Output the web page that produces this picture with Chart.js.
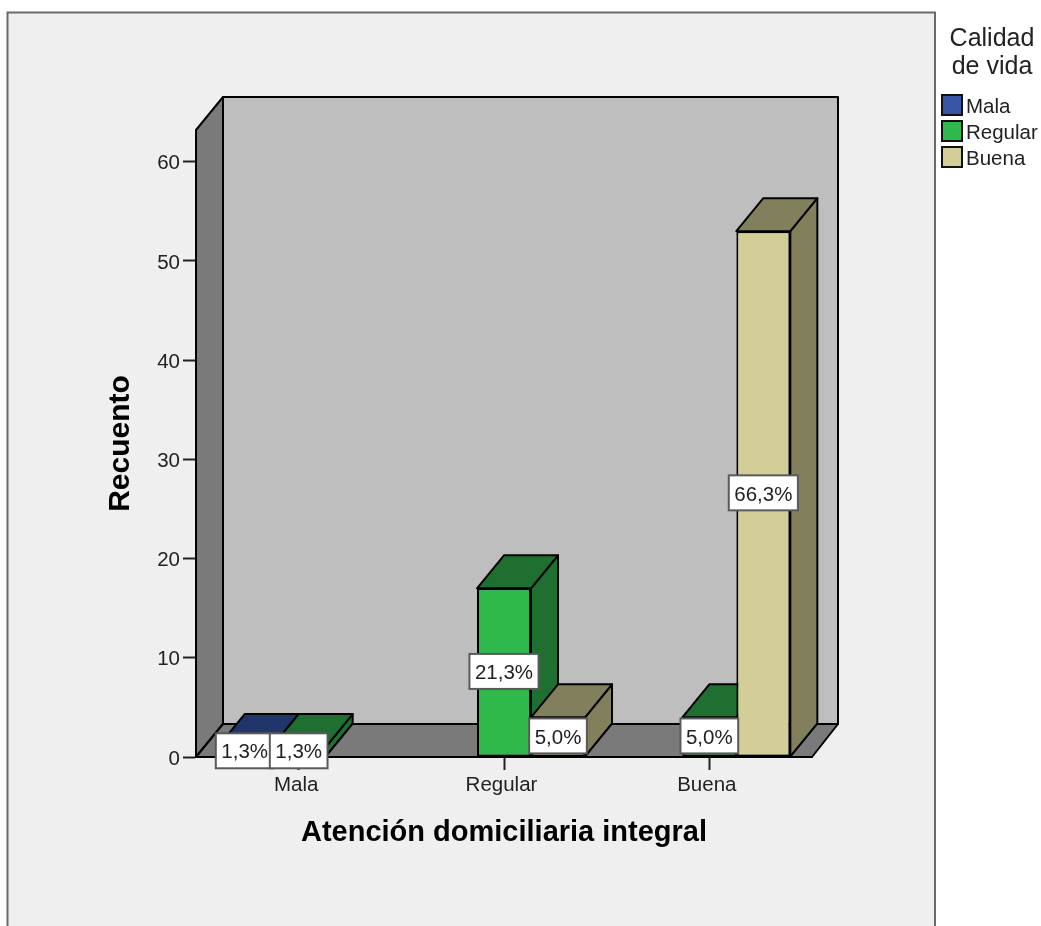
<!DOCTYPE html>
<html>
<head>
<meta charset="utf-8">
<title>Calidad de vida por atención domiciliaria integral</title>
<script src="https://cdn.jsdelivr.net/npm/chart.js@4"></script>
<style>
  html, body { margin: 0; padding: 0; background: #fff; }
  canvas { display: block; }
</style>
</head>
<body>
<canvas id="chart" width="1041" height="926"></canvas>
<script>
const categories = ['Mala', 'Regular', 'Buena'];
const seriesNames = ['Mala', 'Regular', 'Buena'];
const malaCounts = [1, 0, 0];
const regularCounts = [1, 17, 4];
const buenaCounts = [0, 4, 53];
const yTicks = [0, 10, 20, 30, 40, 50, 60];

const xTitle = 'Atención domiciliaria integral';
const yTitle = 'Recuento';
const legendTitle = ['Calidad', 'de vida'];

const frontColors = ['#3A55A5', '#2FB84C', '#D3CE97'];
const shadeColors = ['#20356A', '#1F7030', '#82805C'];

// Oblique offset of the extruded 3D faces, in pixels.
const DEPTH_X = 27;
const DEPTH_Y = 33;
const FONT = '"Liberation Sans", Arial, sans-serif';

const allCounts = [malaCounts, regularCounts, buenaCounts];
const total = allCounts.flat().reduce((a, b) => a + b, 0);

function polygon(ctx, pts, fill) {
  ctx.beginPath();
  pts.forEach((p, i) => i ? ctx.lineTo(p[0], p[1]) : ctx.moveTo(p[0], p[1]));
  ctx.closePath();
  ctx.fillStyle = fill;
  ctx.fill();
  ctx.lineWidth = 2;
  ctx.lineJoin = 'round';
  ctx.strokeStyle = '#000';
  ctx.stroke();
}

// Panel background and the box walls behind the bars.
const wallsPlugin = {
  id: 'walls',
  beforeDraw(chart) {
    const { ctx, chartArea: a } = chart;
    ctx.save();
    ctx.fillStyle = '#fff';
    ctx.fillRect(0, 0, chart.width, chart.height);
    ctx.fillStyle = '#EFEFEF';
    ctx.fillRect(7.5, 12.5, 927.5, chart.height);
    ctx.strokeStyle = '#6A6A6A';
    ctx.lineWidth = 2;
    ctx.strokeRect(7.5, 12.5, 927.5, chart.height + 20);

    const L = a.left, R = a.right, T = a.top, B = a.bottom;
    polygon(ctx, [[L + DEPTH_X, T - DEPTH_Y], [R + DEPTH_X - 1, T - DEPTH_Y], [R + DEPTH_X - 1, B - DEPTH_Y], [L + DEPTH_X, B - DEPTH_Y]], '#BEBEBE');
    polygon(ctx, [[L, B], [L, T], [L + DEPTH_X, T - DEPTH_Y], [L + DEPTH_X, B - DEPTH_Y]], '#7A7A7A');
    polygon(ctx, [[L, B], [L + DEPTH_X, B - DEPTH_Y], [R + DEPTH_X - 1, B - DEPTH_Y], [R, B]], '#7A7A7A');
    ctx.restore();
  }
};

// Top and side faces of each bar, placed from the bar elements themselves.
const barFacesPlugin = {
  id: 'barFaces',
  beforeDatasetsDraw(chart) {
    const { ctx } = chart;
    ctx.save();
    categories.forEach((_, c) => {
      chart.data.datasets.forEach((ds, d) => {
        if (!ds.data[c]) return;
        const el = chart.getDatasetMeta(d).data[c];
        const l = el.x - el.width / 2, r = el.x + el.width / 2;
        const t = el.y, b = el.base;
        polygon(ctx, [[r, t], [r + DEPTH_X, t - DEPTH_Y], [r + DEPTH_X, b - DEPTH_Y], [r, b]], shadeColors[d]);
        polygon(ctx, [[l, t], [l + DEPTH_X, t - DEPTH_Y], [r + DEPTH_X, t - DEPTH_Y], [r, t]], shadeColors[d]);
      });
    });
    ctx.restore();
  }
};

// Percentage boxes centred on each non-empty bar.
const valueBoxPlugin = {
  id: 'valueBoxes',
  afterDatasetsDraw(chart) {
    const { ctx } = chart;
    ctx.save();
    ctx.font = '20.5px ' + FONT;
    ctx.textAlign = 'center';
    ctx.textBaseline = 'middle';
    chart.data.datasets.forEach((ds, d) => {
      ds.data.forEach((v, c) => {
        if (!v) return;
        const el = chart.getDatasetMeta(d).data[c];
        const text = (v / total * 100).toFixed(1).replace('.', ',') + '%';
        const w = ctx.measureText(text).width + 11;
        const h = 35;
        const cy = (el.y + el.base) / 2 - 1;
        ctx.fillStyle = '#fff';
        ctx.fillRect(el.x - w / 2, cy - h / 2, w, h);
        ctx.strokeStyle = '#5A5A5A';
        ctx.lineWidth = 2;
        ctx.strokeRect(el.x - w / 2, cy - h / 2, w, h);
        ctx.fillStyle = '#222';
        ctx.fillText(text, el.x, cy + 2);
      });
    });
    ctx.restore();
  }
};

// Legend block in the right-hand margin.
const legendBlockPlugin = {
  id: 'legendBlock',
  afterDraw(chart) {
    const { ctx } = chart;
    ctx.save();
    ctx.fillStyle = '#222';
    ctx.textBaseline = 'middle';
    ctx.textAlign = 'center';
    ctx.font = '25px ' + FONT;
    legendTitle.forEach((line, i) => ctx.fillText(line, 992, 39 + i * 28));
    ctx.textAlign = 'left';
    ctx.font = '20.5px ' + FONT;
    seriesNames.forEach((name, i) => {
      const y = 105 + i * 26;
      ctx.fillStyle = frontColors[i];
      ctx.fillRect(942, y - 10, 20, 20);
      ctx.strokeStyle = '#111';
      ctx.lineWidth = 2;
      ctx.strokeRect(942, y - 10, 20, 20);
      ctx.fillStyle = '#222';
      ctx.fillText(name, 966, y + 2);
    });
    ctx.restore();
  }
};

new Chart(document.getElementById('chart'), {
  type: 'bar',
  data: {
    labels: categories,
    datasets: seriesNames.map((name, i) => ({
      label: name,
      data: allCounts[i],
      backgroundColor: frontColors[i],
      borderColor: '#000',
      borderWidth: 2,
      borderSkipped: false
    }))
  },
  plugins: [wallsPlugin, barFacesPlugin, valueBoxPlugin, legendBlockPlugin],
  options: {
    responsive: false,
    animation: false,
    events: [],
    layout: { padding: { top: 130, right: 229, left: 0, bottom: 0 } },
    categoryPercentage: 0.789,
    barPercentage: 1,
    plugins: { legend: { display: false }, tooltip: { enabled: false }, title: { display: false } },
    scales: {
      x: {
        afterFit(s) { s.height = 169; },
        grid: { drawOnChartArea: false, tickLength: 13, tickColor: '#222', tickWidth: 2, offset: false },
        border: { color: '#000', width: 2 },
        ticks: { color: '#222', padding: 3, labelOffset: -2.5, maxRotation: 0, font: { family: FONT, size: 20.5 } },
        title: {
          display: true, text: xTitle, color: '#000',
          font: { family: FONT, size: 29, weight: 'bold' },
          padding: { top: 0, bottom: 75.5 }
        }
      },
      y: {
        min: 0,
        max: 63.2,
        afterFit(s) { s.width = 196; },
        afterBuildTicks(s) { s.ticks = yTicks.map(v => ({ value: v })); },
        grid: { drawOnChartArea: false, tickLength: 13, tickColor: '#222', tickWidth: 2 },
        border: { color: '#000', width: 2 },
        ticks: { color: '#222', padding: 3, labelOffset: 2, font: { family: FONT, size: 20.5 } },
        title: {
          display: true, text: yTitle, color: '#000',
          font: { family: FONT, size: 30, weight: 'bold' },
          padding: { top: 103, bottom: 0 }
        }
      }
    }
  }
});
</script>
</body>
</html>
